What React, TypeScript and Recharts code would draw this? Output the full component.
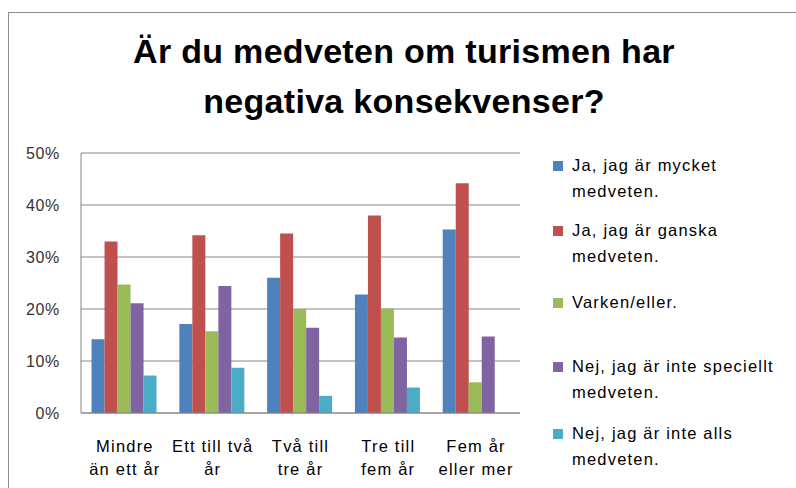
import React from "react"
import { BarChart, Bar, XAxis, YAxis, CartesianGrid } from "recharts"

const categories = ["Mindre\nän ett år", "Ett till två\når", "Två till\ntre år", "Tre till\nfem år", "Fem år\neller mer"]
const seriesNames = [
  "Ja, jag är mycket\nmedveten.",
  "Ja, jag är ganska\nmedveten.",
  "Varken/eller.",
  "Nej, jag är inte speciellt\nmedveten.",
  "Nej, jag är inte alls\nmedveten.",
]
const mycket = [0.142, 0.171, 0.26, 0.228, 0.353]
const ganska = [0.33, 0.342, 0.345, 0.38, 0.442]
const varken = [0.247, 0.157, 0.2, 0.201, 0.059]
const speciellt = [0.211, 0.244, 0.164, 0.145, 0.147]
const alls = [0.072, 0.087, 0.033, 0.049, 0]
const yTicks = [0, 0.1, 0.2, 0.3, 0.4, 0.5]

const colors = ["#4F81BD", "#C0504D", "#9BBB59", "#8064A2", "#4BACC6"]
const keys = ["s0", "s1", "s2", "s3", "s4"]
const series = [mycket, ganska, varken, speciellt, alls]
// small nudges so legend rows sit where Excel put them
const legendNudge = [0, -2, 3, 0, 0]

const data = categories.map((name, i) => {
  const row: any = { name }
  series.forEach((s, j) => (row[keys[j]] = s[i]))
  return row
})

const font = "'Liberation Sans', Arial, sans-serif"

function XTick(props: any) {
  const { x, y, payload } = props
  const lines = String(payload.value).split("\n")
  return (
    <text x={x} y={y} textAnchor="middle" fill="#000" fontSize={16.5} letterSpacing={1.2} fontFamily={font}>
      {lines.map((l, i) => (
        <tspan key={i} x={x} dy={i === 0 ? 31 : 23}>
          {l}
        </tspan>
      ))}
    </text>
  )
}

export default function App() {
  return (
    <div style={{ position: "fixed", left: 0, top: 0, width: 796, height: 488, background: "#fff", overflow: "hidden", fontFamily: font }}>
      <div style={{ position: "absolute", left: 8, top: 12, width: 820, height: 500, border: "1px solid #8c8c8c" }} />
      <div style={{ position: "absolute", left: 0, width: 808, top: 26, textAlign: "center", fontWeight: "bold", fontSize: 34, lineHeight: "50px", letterSpacing: 0.3, color: "#000" }}>
        Är du medveten om turismen har
        <br />
        negativa konsekvenser?
      </div>
      <div style={{ position: "absolute", left: 0, top: 0 }}>
        <BarChart width={796} height={488} data={data} margin={{ top: 153, right: 276, bottom: 0, left: 0 }} barCategoryGap="12%" barGap={0}>
          <CartesianGrid horizontal vertical={false} stroke="#868686" strokeWidth={1} />
          <XAxis dataKey="name" height={75} tick={<XTick />} tickLine={false} axisLine={{ stroke: "#868686" }} interval={0} />
          <YAxis
            width={81}
            domain={[0, 0.5]}
            ticks={yTicks}
            tickFormatter={(v: number) => `${Math.round(v * 100)}%`}
            tick={{ fontSize: 16, fill: "#333", fontFamily: font, letterSpacing: 0.7 }}
            tickLine={false}
            tickSize={0}
            tickMargin={21}
            axisLine={{ stroke: "#868686" }}
          />
          {keys.map((k, j) => (
            <Bar key={k} dataKey={k} fill={colors[j]} isAnimationActive={false} />
          ))}
        </BarChart>
      </div>
      {seriesNames.map((name, j) => (
        <div key={j} style={{ position: "absolute", left: 553, top: 152 + j * 67 + legendNudge[j], display: "flex", fontSize: 16.5, letterSpacing: 1.2, lineHeight: "26px", color: "#000" }}>
          <div style={{ width: 10, height: 10, background: colors[j], marginTop: 9, marginRight: 9 }} />
          <div style={{ whiteSpace: "pre" }}>{name}</div>
        </div>
      ))}
    </div>
  )
}
